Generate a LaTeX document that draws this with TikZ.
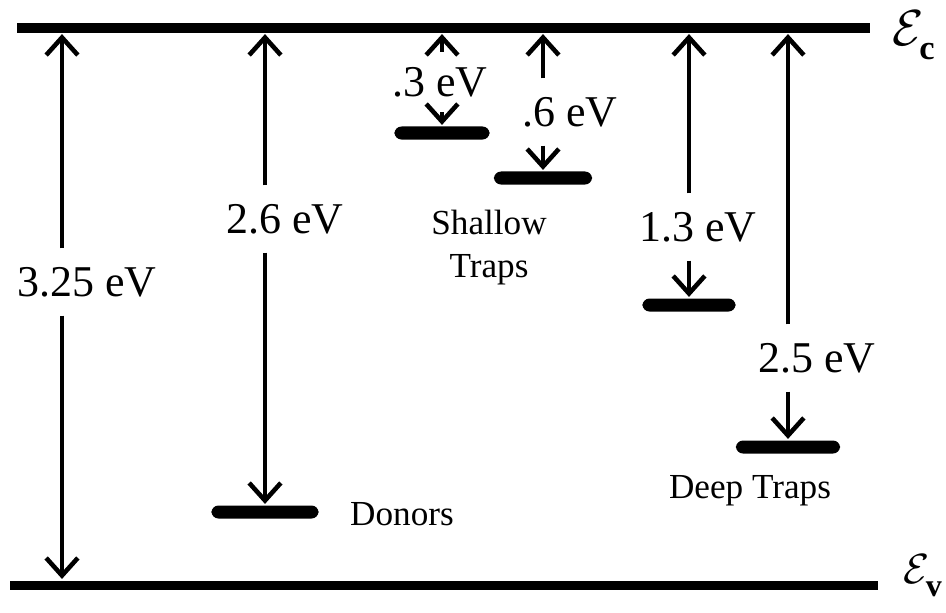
\documentclass[tikz,border=0pt]{standalone}
\usepackage{fontspec}
\setmainfont{Liberation Serif}
\usetikzlibrary{arrows.meta}
\tikzset{
  band/.style={fill=black, inner sep=0pt, minimum height=0.09cm},
  level/.style={fill=black, inner sep=0pt, minimum height=0.13cm, rounded corners=2pt},
  energy/.style={font=\fontsize{12.5}{15}\selectfont, inner xsep=0pt, inner ysep=5pt, text depth=0pt},
  tag/.style={font=\fontsize{10}{12}\selectfont, align=center, inner sep=0pt}
}
\begin{document}
\begin{tikzpicture}[x=0.01cm, y=-0.01cm, line width=0.9pt,
  >={Straight Barb[length=5pt,width=9pt,line width=1.3pt]}]
\useasboundingbox (0,0) rectangle (946,612);
\node[band, minimum width=8.53cm] (Ec) at (443.5,28) {};
\node[band, minimum width=8.68cm] (Ev) at (444,585) {};
\node[anchor=base west, inner sep=0pt, font=\fontsize{14}{17}\selectfont] (EcTag) at (891,45) {$\mathcal{E}_{\lower2pt\hbox{$\scriptstyle\mathbf{c}$}}$};
\node[anchor=base west, inner sep=0pt, font=\fontsize{13}{16}\selectfont] (EvTag) at (902,583) {$\mathcal{E}_{\lower2pt\hbox{$\scriptstyle\mathbf{v}$}}$};
\node[level, minimum width=0.95cm] (t3) at (442,133) {};
\node[level, minimum width=0.98cm] (t6) at (543,178) {};
\node[level, minimum width=0.93cm] (t13) at (689,305) {};
\node[level, minimum width=1.04cm] (t25) at (788,447) {};
\node[level, minimum width=1.07cm] (donor) at (265,512) {};
\node[energy] (l325) at (87,282) {3.25 eV};
\node[energy] (l26) at (285,219) {2.6 eV};
\node[energy, inner ysep=4pt] (l3) at (440,82) {.3 eV};
\node[energy] (l6) at (570,112) {.6 eV};
\node[energy] (l13) at (698,227) {1.3 eV};
\node[energy] (l25) at (817,358) {2.5 eV};
\coordinate (a325) at (62,0);
\draw[->] (l325.north -| a325) -- (Ec.south -| a325);
\draw[->] (l325.south -| a325) -- (Ev.north -| a325);
\draw[->] (l26.north -| donor) -- (Ec.south -| donor);
\draw[->] (l26.south -| donor) -- (donor.north);
\draw[->] (l3.north -| t3) -- (Ec.south -| t3);
\draw[->] (l3.south -| t3) -- (t3.north);
\draw[->] (l6.north -| t6) -- (Ec.south -| t6);
\draw[->] (l6.south -| t6) -- (t6.north);
\draw[->] (l13.north -| t13) -- (Ec.south -| t13);
\draw[->] (l13.south -| t13) -- (t13.north);
\draw[->] (l25.north -| t25) -- (Ec.south -| t25);
\draw[->] (l25.south -| t25) -- (t25.north);
\node[tag, anchor=base] (donors) at (402,525) {Donors};
\node[tag, anchor=north] (shallow) at (489,209) {Shallow\\Traps};
\node[tag, anchor=base] (deep) at (750,498) {Deep Traps};
\end{tikzpicture}
\end{document}
